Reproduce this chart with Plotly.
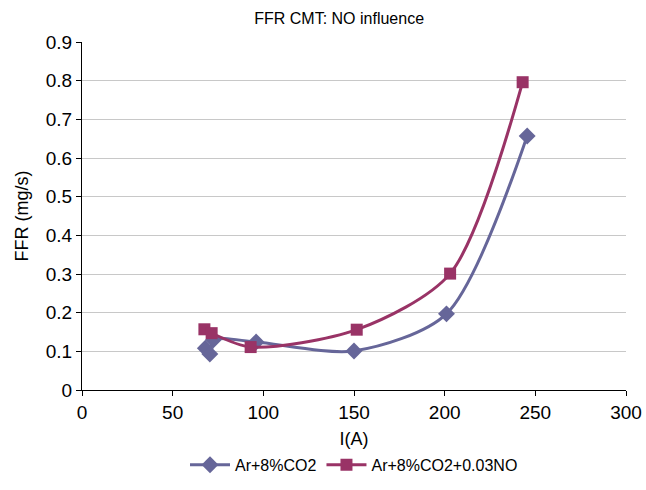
import plotly.graph_objects as go

current_co2 = [68, 70.5, 72.5, 96, 150, 201, 245.5]
ffr_co2 = [0.108, 0.093, 0.13, 0.124, 0.101, 0.197, 0.657]

current_no = [67.5, 71.5, 93, 151.5, 203, 243]
ffr_no = [0.157, 0.147, 0.111, 0.156, 0.301, 0.796]

x_ticks = [0, 50, 100, 150, 200, 250, 300]
y_ticks = [0, 0.1, 0.2, 0.3, 0.4, 0.5, 0.6, 0.7, 0.8, 0.9]
y_tick_text = ["0", "0.1", "0.2", "0.3", "0.4", "0.5", "0.6", "0.7", "0.8", "0.9"]

FONT = "Liberation Sans, Arial, sans-serif"

fig = go.Figure()
fig.add_trace(go.Scatter(
    x=current_co2, y=ffr_co2, name="Ar+8%CO2",
    mode="lines+markers",
    line=dict(color="#666699", width=3, shape="spline", smoothing=0.8),
    marker=dict(symbol="diamond", size=13, color="#666699"),
))
fig.add_trace(go.Scatter(
    x=current_no, y=ffr_no, name="Ar+8%CO2+0.03NO",
    mode="lines+markers",
    line=dict(color="#993366", width=3, shape="spline", smoothing=0.8),
    marker=dict(symbol="square", size=12, color="#993366"),
))

fig.update_layout(
    width=646, height=490,
    margin=dict(l=82, r=20, t=42, b=100, autoexpand=False),
    paper_bgcolor="white", plot_bgcolor="white",
    font=dict(family=FONT, color="black"),
    title=dict(text="FFR CMT: NO influence", x=0.525, xanchor="center",
               y=0.962, yanchor="middle", font=dict(size=16, family=FONT)),
    showlegend=True,
    legend=dict(orientation="h", x=0.5, xanchor="center", y=-0.215, yanchor="middle",
                font=dict(size=16, family=FONT), itemwidth=40),
    xaxis=dict(range=[0, 300], tickvals=x_ticks, showgrid=False,
               showline=True, linecolor="black", linewidth=1,
               ticks="outside", ticklen=5, tickcolor="black",
               tickfont=dict(size=19), zeroline=False, automargin=False,
               title=dict(text="I(A)", font=dict(size=18), standoff=10)),
    yaxis=dict(range=[0, 0.9], tickvals=y_ticks, ticktext=y_tick_text,
               showgrid=True, gridcolor="#c8c8c8", gridwidth=1,
               showline=True, linecolor="black", linewidth=1,
               ticks="outside", ticklen=5, tickcolor="black",
               tickfont=dict(size=19), zeroline=False, automargin=False,
               title=dict(text="FFR (mg/s)", font=dict(size=18), standoff=12)),
)

fig.write_html("out.html")
